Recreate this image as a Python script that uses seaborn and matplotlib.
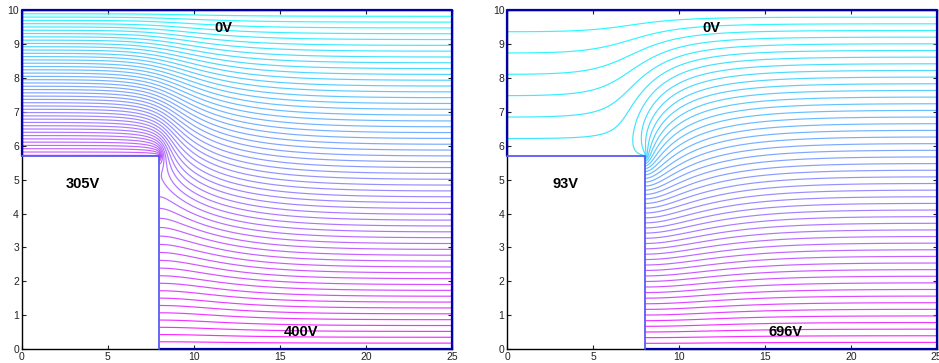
import numpy as np
import matplotlib
matplotlib.use("Agg")
import matplotlib.pyplot as plt
import seaborn as sns

# Geometry (units as on the axes) and boundary voltages
domain_w, domain_h = 25.0, 10.0
electrode_w, electrode_h = 8.0, 5.7
top_volts = [0, 0]
electrode_volts = [305, 93]
bottom_volts = [400, 696]
n_levels = [58, 51]          # number of potential steps between top and bottom
top_labels = ["0V", "0V"]
electrode_labels = ["305V", "93V"]
bottom_labels = ["400V", "696V"]

h = 0.1
nx = int(round(domain_w / h)) + 1
ny = int(round(domain_h / h)) + 1
ie = int(round(electrode_w / h))
je = int(round(electrode_h / h))
xs = np.linspace(0, domain_w, nx)
ys = np.linspace(0, domain_h, ny)


def solve(v_top, v_el, v_bot, iters=5000, w=1.96):
    # Laplace equation, Dirichlet on top / electrode top / bottom,
    # Neumann on the left, right and the vertical electrode face
    Y = np.repeat(ys[:, None], nx, axis=1)
    phi = v_bot + (v_top - v_bot) * Y / domain_h
    free = np.ones((ny, nx), bool)
    free[-1, :] = False
    free[0, :] = False
    free[:je + 1, :ie + 1] = False
    free[1:je, ie] = True
    jj, ii = np.indices((ny, nx))
    red = free & ((ii + jj) % 2 == 0)
    black = free & ((ii + jj) % 2 == 1)

    def bc(p):
        p[-1, :] = v_top
        p[0, ie:] = v_bot
        p[je, :ie + 1] = v_el
        p[:je, ie - 1] = p[:je, ie + 1]

    bc(phi)
    for _ in range(iters):
        for m in (red, black):
            P = np.pad(phi, 1, mode="reflect")
            nb = P[:-2, 1:-1] + P[2:, 1:-1] + P[1:-1, :-2] + P[1:-1, 2:]
            phi[m] += w * (nb[m] / 4.0 - phi[m])
            bc(phi)
    phi = np.ma.array(phi)
    mask = np.zeros_like(phi, bool)
    mask[:je, :ie] = True
    phi[mask] = np.ma.masked
    return phi


sns.set_style("ticks")
plt.rcParams["font.family"] = ["Liberation Sans", "DejaVu Sans"]

fig = plt.figure(figsize=(9.39, 3.63), dpi=100)
axes_rects = [[0.0231, 0.0386, 0.4583, 0.9325], [0.5403, 0.0386, 0.4573, 0.9325]]

for k in range(2):
    ax = fig.add_axes(axes_rects[k])
    phi = solve(top_volts[k], electrode_volts[k], bottom_volts[k])
    vmax = bottom_volts[k]
    step = (vmax - top_volts[k]) / n_levels[k]
    levels = top_volts[k] + step * np.arange(1, n_levels[k])
    ax.contour(xs, ys, phi, levels=levels, cmap="cool",
               vmin=top_volts[k], vmax=vmax, linewidths=0.85, alpha=0.85)

    # domain boundary and electrode outline
    ax.plot([electrode_w, domain_w, domain_w, 0, 0],
            [0, 0, domain_h, domain_h, electrode_h],
            color="#0000a8", lw=1.6, clip_on=False, zorder=5)
    ax.plot([0, electrode_w, electrode_w], [electrode_h, electrode_h, 0],
            color="#5a5af5", lw=1.3, clip_on=False, zorder=5)

    ax.text(11.7 if k == 0 else 11.9, 9.48, top_labels[k], fontsize=10.5,
            fontweight="bold", ha="center", va="center", color="black")
    ax.text(3.55 if k == 0 else 3.4, 4.88, electrode_labels[k], fontsize=10.5,
            fontweight="bold", ha="center", va="center", color="black")
    ax.text(16.2, 0.5, bottom_labels[k], fontsize=10.5,
            fontweight="bold", ha="center", va="center", color="black")

    ax.set_xlim(0, domain_w)
    ax.set_ylim(0, domain_h)
    ax.set_xticks(np.arange(0, 26, 5))
    ax.set_yticks(np.arange(0, 11, 1))
    ax.tick_params(direction="in", length=3, width=0.8, labelsize=7.5,
                   top=True, right=True, pad=2, colors="#222222")
    for s in ax.spines.values():
        s.set_color("black")
        s.set_linewidth(1.0)

fig.savefig("out.png", dpi=100)
